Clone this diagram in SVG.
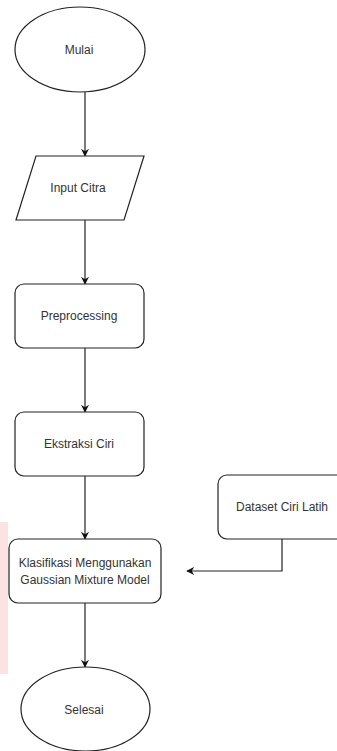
<svg xmlns="http://www.w3.org/2000/svg" width="337" height="751" viewBox="0 0 337 751">
<defs>
<style>
.s{fill:#fff;stroke:#222;stroke-width:1.2}
.t{font-family:"Liberation Sans",Arial,sans-serif;font-size:12px;fill:#333;text-anchor:middle;dominant-baseline:central}
.c{fill:none;stroke:#222;stroke-width:1.2}
</style>
<marker id="ah" viewBox="0 0 10 10" refX="9" refY="5" markerWidth="8" markerHeight="8" markerUnits="userSpaceOnUse" orient="auto">
<path d="M0,0 L10,5 L0,10 L3,5 Z" fill="#111"/>
</marker>
</defs>
<rect width="337" height="751" fill="#fff"/>
<rect x="0" y="522" width="8" height="152" fill="#fde2e2"/>
<g id="connectors">
<line class="c" x1="85" y1="92" x2="85" y2="156" marker-end="url(#ah)"/>
<line class="c" x1="85" y1="220" x2="85" y2="284" marker-end="url(#ah)"/>
<line class="c" x1="85" y1="348" x2="85" y2="412" marker-end="url(#ah)"/>
<line class="c" x1="85" y1="476" x2="85" y2="539" marker-end="url(#ah)"/>
<line class="c" x1="85" y1="603" x2="85" y2="667" marker-end="url(#ah)"/>
<polyline class="c" points="282,539 282,571 187,571" marker-end="url(#ah)"/>
</g>
<g id="mulai">
<ellipse class="s" cx="80" cy="49.5" rx="65" ry="42.5"/>
<text class="t" x="79" y="50">Mulai</text>
</g>
<g id="input-citra">
<polygon class="s" points="36,156 144,156 124,220 16,220"/>
<text class="t" x="78" y="188">Input Citra</text>
</g>
<g id="preprocessing">
<rect class="s" x="15" y="284" width="129" height="64" rx="9"/>
<text class="t" x="79" y="316">Preprocessing</text>
</g>
<g id="ekstraksi-ciri">
<rect class="s" x="15" y="412" width="129" height="64" rx="9"/>
<text class="t" x="79" y="444">Ekstraksi Ciri</text>
</g>
<g id="dataset-ciri-latih">
<rect class="s" x="218" y="475" width="128" height="64" rx="9"/>
<text class="t" x="282" y="507">Dataset Ciri Latih</text>
</g>
<g id="klasifikasi">
<rect class="s" x="9" y="539" width="152" height="64" rx="9"/>
<text class="t" x="85" y="563">Klasifikasi Menggunakan</text>
<text class="t" x="85" y="580">Gaussian Mixture Model</text>
</g>
<g id="selesai">
<ellipse class="s" cx="85.5" cy="709" rx="64.5" ry="42"/>
<text class="t" x="84" y="710">Selesai</text>
</g>
</svg>
